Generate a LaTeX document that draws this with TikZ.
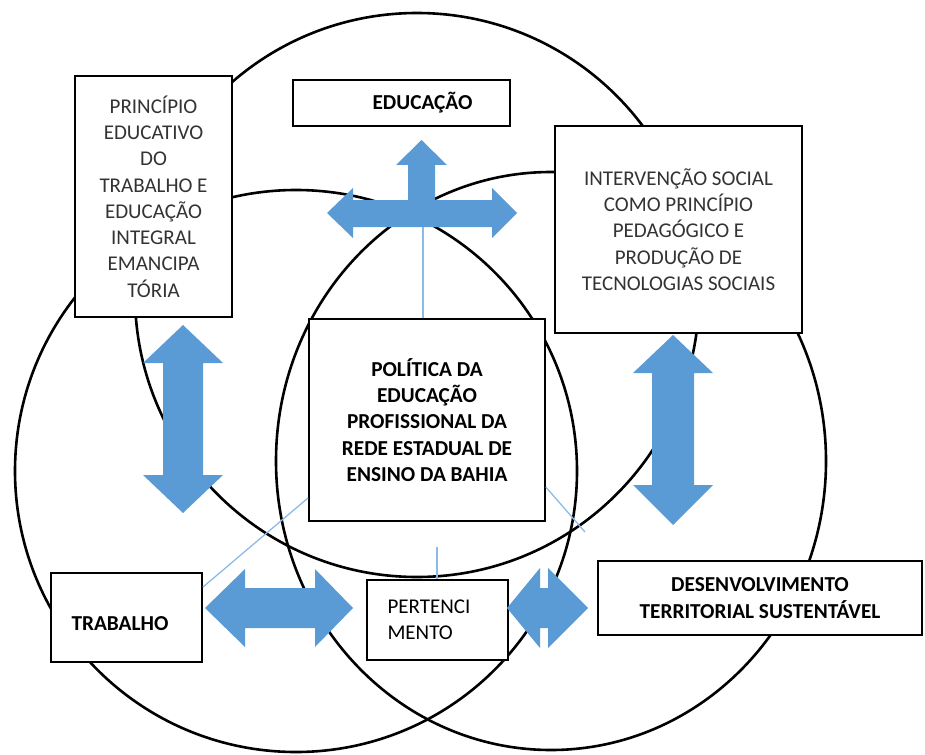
\documentclass[tikz,border=0pt]{standalone}
\usepackage{fontspec}
\setmainfont{Carlito}
\usetikzlibrary{calc}
\definecolor{arrowblue}{HTML}{5B9BD5}
\definecolor{linkblue}{HTML}{8DBBE8}

\begin{document}
\begin{tikzpicture}[x=1pt, y=-1pt]
  \tikzset{ring/.style={draw, line width=2.6pt}, box/.style={draw, line width=1.8pt, fill=white, inner sep=0pt, align=center, font=\fontsize{21}{26.3}\selectfont}, thin box/.style={box, text=black!80}, bold box/.style={box, font=\fontsize{21.3}{26.3}\selectfont\bfseries}, blk/.style={fill=arrowblue}, link/.style={draw=linkblue, line width=1.3pt}}
  \useasboundingbox (0,0) rectangle (925,754);
  % the three circles
  \draw[ring] (417,295) circle[radius=282];
  \draw[ring] (296,471) circle[radius=281];
  \draw[ring] (551,461) ellipse[x radius=275, y radius=289];
  % boxes
  \node[thin box, minimum width=157, minimum height=241] (princ) at (153.5,196.5) {PRINCÍPIO\\EDUCATIVO\\DO\\TRABALHO E\\EDUCAÇÃO\\INTEGRAL\\EMANCIPA\\TÓRIA};
  \node[bold box, minimum width=217, minimum height=46] (edu) at (401.5,103) {\hspace*{42pt}EDUCAÇÃO};
  \node[thin box, minimum width=247, minimum height=207] (interv) at (678.5,229.5) {INTERVENÇÃO SOCIAL\\COMO PRINCÍPIO\\PEDAGÓGICO E\\PRODUÇÃO DE\\TECNOLOGIAS SOCIAIS};
  \node[bold box, minimum width=236, minimum height=202] (pol) at (427,420) {POLÍTICA DA\\EDUCAÇÃO\\PROFISSIONAL DA\\REDE ESTADUAL DE\\ENSINO DA BAHIA};
  \node[bold box, minimum width=151, minimum height=89] (trab) at (126.5,617.5) {\hspace*{-13pt}\raisebox{-6pt}[\height][\depth]{TRABALHO}};
  \node[box, align=left, text width=100, minimum width=141, minimum height=80] (pert) at (437.5,620) {PERTENCI\\MENTO};
  \node[bold box, minimum width=324, minimum height=74] (desenv) at (760,598) {DESENVOLVIMENTO\\TERRITORIAL SUSTENTÁVEL};
  % block arrows
  \fill[blk] (327,213) -- (353,188) -- (353,200) -- (408,200) -- (408,165) -- (396,165) -- (421.5,140) -- (447,165) -- (435,165) -- (435,200) -- (492,200) -- (492,188) -- (517,213) -- (492,238) -- (492,227) -- (353,227) -- (353,238) -- cycle;
  \fill[blk] (183,325) -- (223,363) -- (203,363) -- (203,475) -- (223,475) -- (183,513) -- (143,475) -- (163,475) -- (163,363) -- (143,363) -- cycle;
  \fill[blk] (673,335) -- (713,373) -- (694,373) -- (694,485) -- (713,485) -- (673,525) -- (633,485) -- (652,485) -- (652,373) -- (633,373) -- cycle;
  \fill[blk] (205,608) -- (245,569) -- (245,588) -- (315,588) -- (315,569) -- (353,608) -- (315,647) -- (315,628) -- (245,628) -- (245,647) -- cycle;
  \fill[blk] (507,608) -- (540,568) -- (540,588) -- (548,588) -- (548,568) -- (588,608) -- (548,648) -- (548,628) -- (540,628) -- (540,648) -- cycle;
  % thin links
  \coordinate (crossfoot) at (423,227);
  \coordinate (linkend) at (585,532);
  \coordinate (pertup) at (437,547);
  \draw[link] (crossfoot) -- (pol.north -| crossfoot);
  \draw[link] ($(pol.south west)+(0,-24)$) -- ($(trab.north east)+(0,15)$);
  \draw[link] ($(pol.north east)+(0,169)$) -- (linkend);
  \draw[link] (pertup) -- (pert.north -| pertup);
\end{tikzpicture}
\end{document}
